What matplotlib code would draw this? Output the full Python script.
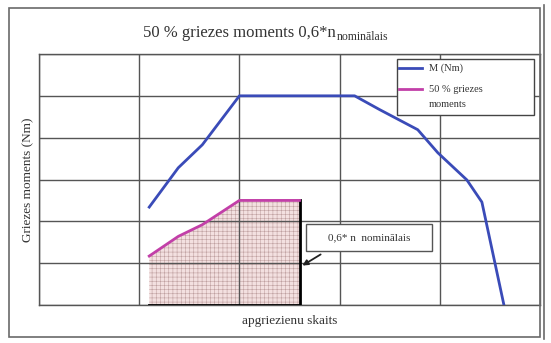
import matplotlib
matplotlib.use("Agg")
import matplotlib.pyplot as plt
from matplotlib.lines import Line2D
from matplotlib.patches import Rectangle

# ---- data (grid units) ----
m_x = [1.10, 1.39, 1.63, 2.00, 3.15, 3.40, 3.78, 3.98, 4.27, 4.42, 4.64]
m_y = [2.34, 3.28, 3.83, 5.00, 5.00, 4.67, 4.19, 3.64, 2.99, 2.46, 0.00]
half_x = [1.10, 1.39, 1.63, 2.00, 2.60]
half_y = [1.17, 1.64, 1.92, 2.50, 2.50]
title_main = "50 % griezes moments 0,6*n"
title_sub = "nominālais"
xlabel = "apgriezienu skaits"
ylabel = "Griezes moments (Nm)"
legend_labels = ["M (Nm)", "50 % griezes\nmoments"]
annot_text = "0,6* n  nominālais"

W, H = 551, 343
plt.rcParams['font.family'] = ['Liberation Serif', 'DejaVu Serif']
plt.rcParams['hatch.linewidth'] = 0.4
plt.rcParams['hatch.color'] = '#b89a9a'

fig = plt.figure(figsize=(W / 100, H / 100), dpi=100)

def fx(px):
    return px / W

def fy(py):
    return 1 - py / H

# outer frame
fig.patches.append(Rectangle((fx(9), fy(337)), fx(540) - fx(9), fy(8) - fy(337),
                             transform=fig.transFigure, fill=False,
                             edgecolor='#6a6a6a', linewidth=1.2))
fig.lines.append(Line2D([fx(544), fx(544)], [fy(5), fy(339)],
                        transform=fig.transFigure, color='#6a6a6a', linewidth=1.2))

ax = fig.add_axes([fx(39), fy(305), fx(540) - fx(39), fy(54) - fy(305)])
ax.set_xlim(0, 5)
ax.set_ylim(0, 6)
ax.set_xticks(range(6))
ax.set_yticks(range(7))
ax.tick_params(length=0, labelbottom=False, labelleft=False)
ax.grid(True, color='#555555', linewidth=1.0)
ax.set_axisbelow(False)
for s in ax.spines.values():
    s.set_color('#555555')
    s.set_linewidth(1.0)

# shaded area
ax.fill_between(half_x, 0, half_y, facecolor='#f3e0e0', hatch='++++',
                edgecolor='#bfa0a0', linewidth=0, zorder=1)
ax.plot([half_x[0], half_x[-1], half_x[-1]], [0, 0, half_y[-1]],
        color='black', linewidth=2.0, zorder=3)

ax.plot(m_x, m_y, color='#3a4bb8', linewidth=2.0, zorder=4,
        solid_joinstyle='round')
ax.plot(half_x, half_y, color='#c23fa8', linewidth=2.0, zorder=4,
        solid_joinstyle='round')

# legend box (manual, figure pixel coords)
fig.patches.append(Rectangle((fx(397), fy(115)), fx(534) - fx(397), fy(59) - fy(115),
                             transform=fig.transFigure, facecolor='white',
                             edgecolor='#444444', linewidth=1.0, zorder=5))
fig.lines.append(Line2D([fx(399), fx(422)], [fy(68), fy(68)], transform=fig.transFigure,
                        color='#3a4bb8', linewidth=2.0, zorder=6))
fig.lines.append(Line2D([fx(399), fx(422)], [fy(89), fy(89)], transform=fig.transFigure,
                        color='#c23fa8', linewidth=2.0, zorder=6))
fig.text(fx(429), fy(68), legend_labels[0], fontsize=7.5, va='center', ha='left',
         color='#333333', zorder=7)
fig.text(fx(429), fy(97), legend_labels[1], fontsize=7.5, va='center', ha='left',
         color='#333333', linespacing=1.75, zorder=7)

# annotation box + arrow
fig.patches.append(Rectangle((fx(306), fy(251)), fx(432) - fx(306), fy(224) - fy(251),
                             transform=fig.transFigure, facecolor='white',
                             edgecolor='#555555', linewidth=1.0, zorder=5))
fig.text(fx(369), fy(238), annot_text, fontsize=8, ha='center', va='center',
         color='#333333', zorder=7)
ax.annotate('', xy=(fx(300), fy(267)), xycoords='figure fraction',
            xytext=(fx(323), fy(253)), textcoords='figure fraction',
            arrowprops=dict(arrowstyle='-|>', color='#222222', lw=1.3,
                            mutation_scale=8), zorder=6)

# titles / labels (main title + smaller subscript part)
t_main = fig.text(fx(143), fy(33), title_main, fontsize=12, ha='left', va='center',
                  color='#333333')
fig.canvas.draw()
bb = t_main.get_window_extent()
fig.text(bb.x1 / W + 0.001, fy(37), title_sub, fontsize=8.5, ha='left', va='center',
         color='#333333')
fig.text(fx(290), fy(321), xlabel, fontsize=9.5, ha='center', va='center', color='#333333')
fig.text(fx(28), fy(180), ylabel, fontsize=9.5, ha='center', va='center',
         rotation=90, color='#333333')

fig.savefig("out.png", dpi=100)
